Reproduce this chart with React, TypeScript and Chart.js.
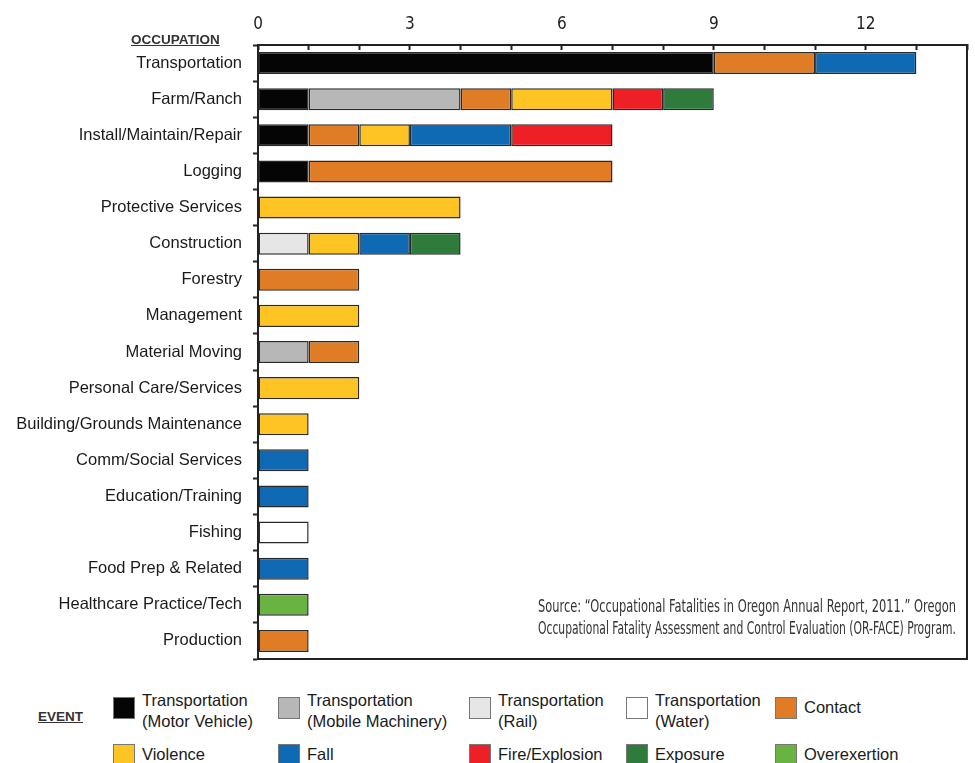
import React, { useEffect, useLayoutEffect, useRef } from "react";
import { Chart, registerables } from "chart.js";

Chart.register(...registerables);

const occupations = [
  "Transportation",
  "Farm/Ranch",
  "Install/Maintain/Repair",
  "Logging",
  "Protective Services",
  "Construction",
  "Forestry",
  "Management",
  "Material Moving",
  "Personal Care/Services",
  "Building/Grounds Maintenance",
  "Comm/Social Services",
  "Education/Training",
  "Fishing",
  "Food Prep & Related",
  "Healthcare Practice/Tech",
  "Production",
];

const eventNames = [
  ["Transportation", "(Motor Vehicle)"],
  ["Transportation", "(Mobile Machinery)"],
  ["Transportation", "(Rail)"],
  ["Transportation", "(Water)"],
  ["Contact"],
  ["Violence"],
  ["Fall"],
  ["Fire/Explosion"],
  ["Exposure"],
  ["Overexertion"],
];

const eventColors = [
  "#050505",
  "#b7b7b7",
  "#e6e6e6",
  "#ffffff",
  "#e07c26",
  "#fec423",
  "#0f69b3",
  "#ee1f25",
  "#2f7b3b",
  "#69b342",
];

// values per occupation (same order as occupations)
const motorVehicle = [9, 1, 1, 1, 0, 0, 0, 0, 0, 0, 0, 0, 0, 0, 0, 0, 0];
const mobileMachinery = [0, 3, 0, 0, 0, 0, 0, 0, 1, 0, 0, 0, 0, 0, 0, 0, 0];
const rail = [0, 0, 0, 0, 0, 1, 0, 0, 0, 0, 0, 0, 0, 0, 0, 0, 0];
const water = [0, 0, 0, 0, 0, 0, 0, 0, 0, 0, 0, 0, 0, 1, 0, 0, 0];
const contact = [2, 1, 1, 6, 0, 0, 2, 0, 1, 0, 0, 0, 0, 0, 0, 0, 1];
const violence = [0, 2, 1, 0, 4, 1, 0, 2, 0, 2, 1, 0, 0, 0, 0, 0, 0];
const fall = [2, 0, 2, 0, 0, 1, 0, 0, 0, 0, 0, 1, 1, 0, 1, 0, 0];
const fireExplosion = [0, 1, 2, 0, 0, 0, 0, 0, 0, 0, 0, 0, 0, 0, 0, 0, 0];
const exposure = [0, 1, 0, 0, 0, 1, 0, 0, 0, 0, 0, 0, 0, 0, 0, 0, 0];
const overexertion = [0, 0, 0, 0, 0, 0, 0, 0, 0, 0, 0, 0, 0, 0, 0, 1, 0];

const seriesValues = [
  motorVehicle,
  mobileMachinery,
  rail,
  water,
  contact,
  violence,
  fall,
  fireExplosion,
  exposure,
  overexertion,
];

const xTickLabelsEvery = 3;
const xMax = 14;

const sourceLines = [
  "Source: \u201cOccupational Fatalities in Oregon Annual Report, 2011.\u201d Oregon",
  "Occupational Fatality Assessment and Control Evaluation (OR-FACE) Program.",
];

const legendCols = [113, 278, 469, 626, 775];
const legendRows = [697, 744];

const condensedFont = "'DejaVu Sans Condensed', 'Liberation Sans Narrow', sans-serif";
const labelFont = "'Liberation Sans', Arial, sans-serif";

const framePlugin = {
  id: "frame",
  afterDraw(chart: any) {
    const { ctx, chartArea } = chart;
    ctx.save();
    ctx.strokeStyle = "#222";
    ctx.lineWidth = 2;
    ctx.beginPath();
    ctx.moveTo(chartArea.right, chartArea.top);
    ctx.lineTo(chartArea.right, chartArea.bottom);
    ctx.lineTo(chartArea.left, chartArea.bottom);
    ctx.stroke();
    ctx.restore();
  },
};

export default function App() {
  const canvasRef = useRef<HTMLCanvasElement | null>(null);
  const lineRefs = useRef<(HTMLSpanElement | null)[]>([]);

  useLayoutEffect(() => {
    const target = 418;
    lineRefs.current.forEach((el) => {
      if (!el) return;
      const w = el.getBoundingClientRect().width;
      if (w > 0) {
        el.style.transform = `scaleX(${target / w})`;
      }
    });
  }, []);

  useEffect(() => {
    document.body.style.margin = "0";
    const canvas = canvasRef.current;
    if (!canvas) return;
    const chart = new Chart(canvas, {
      type: "bar",
      data: {
        labels: occupations,
        datasets: seriesValues.map((vals, i) => ({
          label: eventNames[i].join(" "),
          data: vals.map((v) => (v === 0 ? null : v)),
          backgroundColor: eventColors[i],
          borderColor: "#2a2a2a",
          borderWidth: 1.5,
          borderSkipped: false,
          barPercentage: 0.61,
          categoryPercentage: 1,
        })),
      },
      options: {
        indexAxis: "y",
        responsive: false,
        animation: false,
        layout: { padding: { left: 0, right: 8, top: 0, bottom: 21 } },
        plugins: {
          legend: { display: false },
          tooltip: { enabled: false },
          title: { display: false },
        },
        scales: {
          x: {
            position: "top",
            stacked: true,
            min: 0,
            max: xMax,
            afterFit: (s: any) => {
              s.height = 45;
              s.paddingLeft = 0;
              s.paddingRight = 0;
            },
            ticks: {
              stepSize: 1,
              autoSkip: false,
              maxRotation: 0,
              padding: 15,
              color: "#222",
              font: { family: condensedFont, size: 17 },
              callback: (v: any) => (Number(v) % xTickLabelsEvery === 0 && Number(v) < xMax ? String(v) : ""),
            },
            grid: {
              drawOnChartArea: false,
              drawTicks: true,
              tickLength: -5,
              tickColor: "#222",
              tickWidth: 2,
            },
            border: { display: true, color: "#222", width: 2 },
          },
          y: {
            stacked: true,
            afterFit: (s: any) => {
              s.width = 258;
              s.paddingTop = 0;
              s.paddingBottom = 0;
            },
            ticks: {
              autoSkip: false,
              padding: 11,
              color: "#1a1a1a",
              font: { family: labelFont, size: 16.5 },
            },
            grid: {
              offset: true,
              drawOnChartArea: false,
              drawTicks: true,
              tickLength: 5,
              tickColor: "#222",
              tickWidth: 2,
            },
            border: { display: true, color: "#222", width: 2 },
          },
        },
      },
      plugins: [framePlugin],
    });
    return () => chart.destroy();
  }, []);

  return (
    <div style={{ position: "relative", width: 975, height: 763, overflow: "hidden", background: "#fff" }}>
      <canvas ref={canvasRef} width={975} height={680} style={{ position: "absolute", left: 0, top: 0 }} />
      <div
        style={{
          position: "absolute",
          left: 131,
          top: 32,
          font: `bold 13.5px ${labelFont}`,
          color: "#333",
          textDecoration: "underline",
        }}
      >
        OCCUPATION
      </div>
      <div style={{ position: "absolute", left: 538, top: 595, width: 418 }}>
        {sourceLines.map((line, i) => (
          <div key={i} style={{ height: 22, whiteSpace: "nowrap" }}>
            <span
              ref={(el) => {
                lineRefs.current[i] = el;
              }}
              style={{
                display: "inline-block",
                transformOrigin: "0 0",
                font: `17px ${condensedFont}`,
                lineHeight: "22px",
                color: "#333",
                whiteSpace: "nowrap",
              }}
            >
              {line}
            </span>
          </div>
        ))}
      </div>
      <div
        style={{
          position: "absolute",
          left: 38,
          top: 709,
          font: `bold 13.5px ${labelFont}`,
          color: "#333",
          textDecoration: "underline",
        }}
      >
        EVENT
      </div>
      {eventNames.map((name, i) => {
        const col = i % 5;
        const row = Math.floor(i / 5);
        const x = legendCols[col];
        const y = legendRows[row];
        const twoLine = name.length > 1;
        return (
          <div key={i} style={{ position: "absolute", left: x, top: y }}>
            <div
              style={{
                position: "absolute",
                left: 0,
                top: 0,
                width: 20,
                height: 20,
                background: eventColors[i],
                border: "1px solid #777",
              }}
            />
            <div
              style={{
                position: "absolute",
                left: 29,
                top: twoLine ? -7 : 0,
                font: `16.5px ${labelFont}`,
                lineHeight: "21px",
                color: "#1a1a1a",
                whiteSpace: "nowrap",
              }}
            >
              {name.map((l, j) => (
                <div key={j}>{l}</div>
              ))}
            </div>
          </div>
        );
      })}
    </div>
  );
}
